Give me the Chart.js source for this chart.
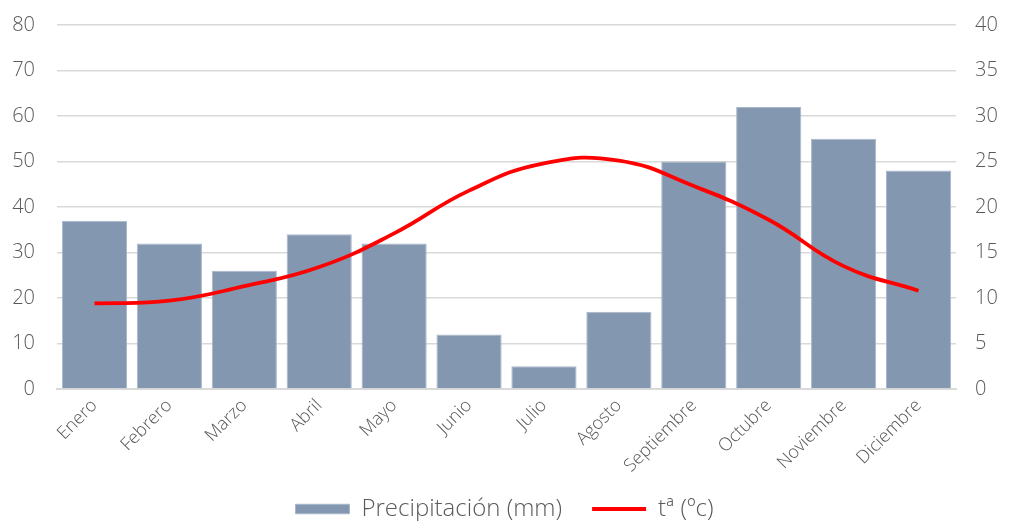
<!DOCTYPE html>
<html>
<head>
<meta charset="utf-8">
<script src="https://cdn.jsdelivr.net/npm/chart.js@4"></script>
<style>
  html, body { margin: 0; padding: 0; background: #ffffff; }
  #wrap { width: 1009px; height: 521px; position: relative; }
</style>
</head>
<body>
<div id="wrap"><canvas id="c"></canvas></div>
<script>
// Monthly climate data
const months = ['Enero', 'Febrero', 'Marzo', 'Abril', 'Mayo', 'Junio', 'Julio', 'Agosto', 'Septiembre', 'Octubre', 'Noviembre', 'Diciembre'];
const precipitation = [37, 32, 26, 34, 32, 12, 5, 17, 50, 62, 55, 48];
const temperature = [9.4, 9.7, 11.3, 13.4, 17.1, 21.8, 24.8, 25.1, 22.3, 18.6, 13.5, 10.8];
const precipLabel = 'Precipitación (mm)';
const tempLabel = 'tª (ºc)';

const FONT = '"Open Sans", Lato, sans-serif';
const TEXT = '#595959';
const GRID = '#d9d9d9';

// After layout: let the month labels use the full height below the axis,
// and nudge the legend row down a little.
const bottomStrip = {
  id: 'bottomStrip',
  afterLayout(chart) {
    const x = chart.scales.x;
    if (x) x.bottom = chart.height;
    const lg = chart.legend;
    if (!lg) return;
    const dy = 10;
    lg.top += dy;
    lg.bottom += dy;
    if (lg.legendHitBoxes) lg.legendHitBoxes.forEach(b => { b.top += dy; });
  }
};

// Fixed width for a value axis and a small margin above its top label
function fitValueAxis(width) {
  return function (s) {
    s.width = width;
    s.paddingTop = 25;
    s.paddingBottom = 12;
  };
}

new Chart(document.getElementById('c'), {
  data: {
    labels: months,
    datasets: [
      {
        type: 'line',
        label: tempLabel,
        data: temperature,
        yAxisID: 'yT',
        borderColor: '#ff0000',
        backgroundColor: '#ff0000',
        borderWidth: 3.8,
        pointRadius: 0,
        pointStyle: 'line',
        tension: 0.45,
        order: 0
      },
      {
        type: 'bar',
        label: precipLabel,
        data: precipitation,
        yAxisID: 'yP',
        backgroundColor: '#8497b0',
        borderColor: '#a9b7ca',
        borderWidth: 1,
        pointStyle: 'rect',
        barPercentage: 0.87,
        categoryPercentage: 1,
        order: 1
      }
    ]
  },
  plugins: [bottomStrip],
  options: {
    responsive: true,
    maintainAspectRatio: false,
    animation: false,
    layout: { padding: 0 },
    plugins: {
      tooltip: { enabled: false },
      legend: {
        position: 'bottom',
        reverse: true,
        labels: {
          usePointStyle: true,
          pointStyleWidth: 54,
          boxHeight: 9.5,
          padding: 30,
          color: TEXT,
          font: { family: FONT, size: 24, weight: '300' }
        }
      }
    },
    scales: {
      x: {
        grid: { display: false, drawTicks: false },
        border: { display: true, color: GRID, width: 2 },
        ticks: {
          color: TEXT,
          font: { family: FONT, size: 18, weight: '300' },
          minRotation: 45,
          maxRotation: 45,
          padding: 6
        },
        afterFit(s) { s.height = 68; }
      },
      yP: {
        position: 'left',
        min: 0, max: 80,
        ticks: { stepSize: 10, color: TEXT, font: { family: FONT, size: 20, weight: '300' }, padding: 22 },
        grid: { color: GRID, lineWidth: 1.5, drawTicks: false },
        border: { display: false },
        afterFit: fitValueAxis(57)
      },
      yT: {
        position: 'right',
        min: 0, max: 40,
        ticks: { stepSize: 5, color: TEXT, font: { family: FONT, size: 20, weight: '300' }, padding: 19 },
        grid: { display: false, drawTicks: false },
        border: { display: false },
        afterFit: fitValueAxis(53)
      }
    }
  }
});
</script>
</body>
</html>
